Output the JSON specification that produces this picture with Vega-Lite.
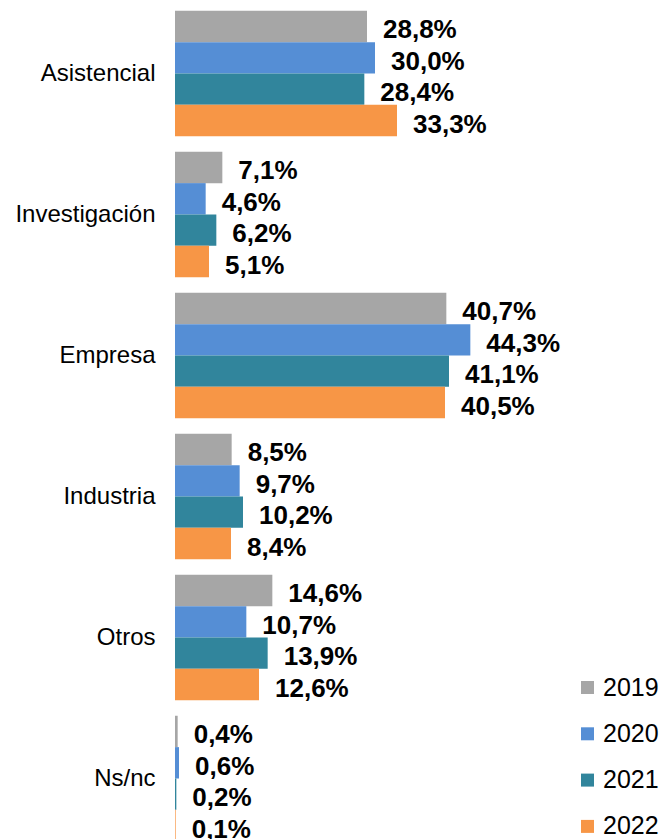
{
  "$schema": "https://vega.github.io/schema/vega-lite/v6.json",
  "width": 400,
  "height": 846,
  "autosize": {"type": "none"},
  "padding": {"left": 175, "top": 3, "right": 92, "bottom": 0},
  "background": "white",
  "data": {
    "values": [
      {"categoria": "Asistencial", "año": "2019", "valor": 0.288},
      {"categoria": "Asistencial", "año": "2020", "valor": 0.300},
      {"categoria": "Asistencial", "año": "2021", "valor": 0.284},
      {"categoria": "Asistencial", "año": "2022", "valor": 0.333},
      {"categoria": "Investigación", "año": "2019", "valor": 0.071},
      {"categoria": "Investigación", "año": "2020", "valor": 0.046},
      {"categoria": "Investigación", "año": "2021", "valor": 0.062},
      {"categoria": "Investigación", "año": "2022", "valor": 0.051},
      {"categoria": "Empresa", "año": "2019", "valor": 0.407},
      {"categoria": "Empresa", "año": "2020", "valor": 0.443},
      {"categoria": "Empresa", "año": "2021", "valor": 0.411},
      {"categoria": "Empresa", "año": "2022", "valor": 0.405},
      {"categoria": "Industria", "año": "2019", "valor": 0.085},
      {"categoria": "Industria", "año": "2020", "valor": 0.097},
      {"categoria": "Industria", "año": "2021", "valor": 0.102},
      {"categoria": "Industria", "año": "2022", "valor": 0.084},
      {"categoria": "Otros", "año": "2019", "valor": 0.146},
      {"categoria": "Otros", "año": "2020", "valor": 0.107},
      {"categoria": "Otros", "año": "2021", "valor": 0.139},
      {"categoria": "Otros", "año": "2022", "valor": 0.126},
      {"categoria": "Ns/nc", "año": "2019", "valor": 0.004},
      {"categoria": "Ns/nc", "año": "2020", "valor": 0.006},
      {"categoria": "Ns/nc", "año": "2021", "valor": 0.002},
      {"categoria": "Ns/nc", "año": "2022", "valor": 0.001}
    ]
  },
  "encoding": {
    "y": {
      "field": "categoria",
      "type": "nominal",
      "sort": null,
      "title": null,
      "scale": {"paddingInner": 0.11, "paddingOuter": 0.055},
      "axis": {
        "domain": false,
        "ticks": false,
        "grid": false,
        "labelPadding": 20,
        "labelFont": "Liberation Sans",
        "labelFontSize": 24,
        "labelColor": "#000000"
      }
    },
    "yOffset": {"field": "año", "type": "nominal", "sort": ["2019", "2020", "2021", "2022"]},
    "x": {
      "field": "valor",
      "type": "quantitative",
      "scale": {"domain": [0, 0.6]},
      "axis": null
    }
  },
  "layer": [
    {
      "mark": {"type": "bar"},
      "encoding": {
        "color": {
          "field": "año",
          "type": "nominal",
          "scale": {
            "domain": ["2019", "2020", "2021", "2022"],
            "range": ["#A6A6A6", "#558ED5", "#31859C", "#F79646"]
          },
          "legend": {
            "title": null,
            "orient": "none",
            "legendX": 400,
            "legendY": 672,
            "padding": 0,
            "offset": 0,
            "symbolType": "square",
            "symbolSize": 169,
            "symbolStrokeWidth": 0,
            "symbolOpacity": 1,
            "labelFont": "Liberation Sans",
            "labelFontSize": 25,
            "labelColor": "#000000",
            "labelOffset": 3,
            "rowPadding": 20.3
          }
        }
      }
    },
    {
      "mark": {
        "type": "text",
        "align": "left",
        "baseline": "middle",
        "dx": 16,
        "dy": 4,
        "font": "Liberation Sans",
        "fontSize": 26,
        "fontWeight": "bold",
        "color": "#000000"
      },
      "encoding": {
        "text": {"field": "valor", "type": "quantitative", "format": ".1%"}
      }
    }
  ],
  "config": {
    "view": {"stroke": null},
    "locale": {
      "number": {
        "decimal": ",",
        "thousands": ".",
        "grouping": [3],
        "currency": ["", " €"]
      }
    }
  }
}
